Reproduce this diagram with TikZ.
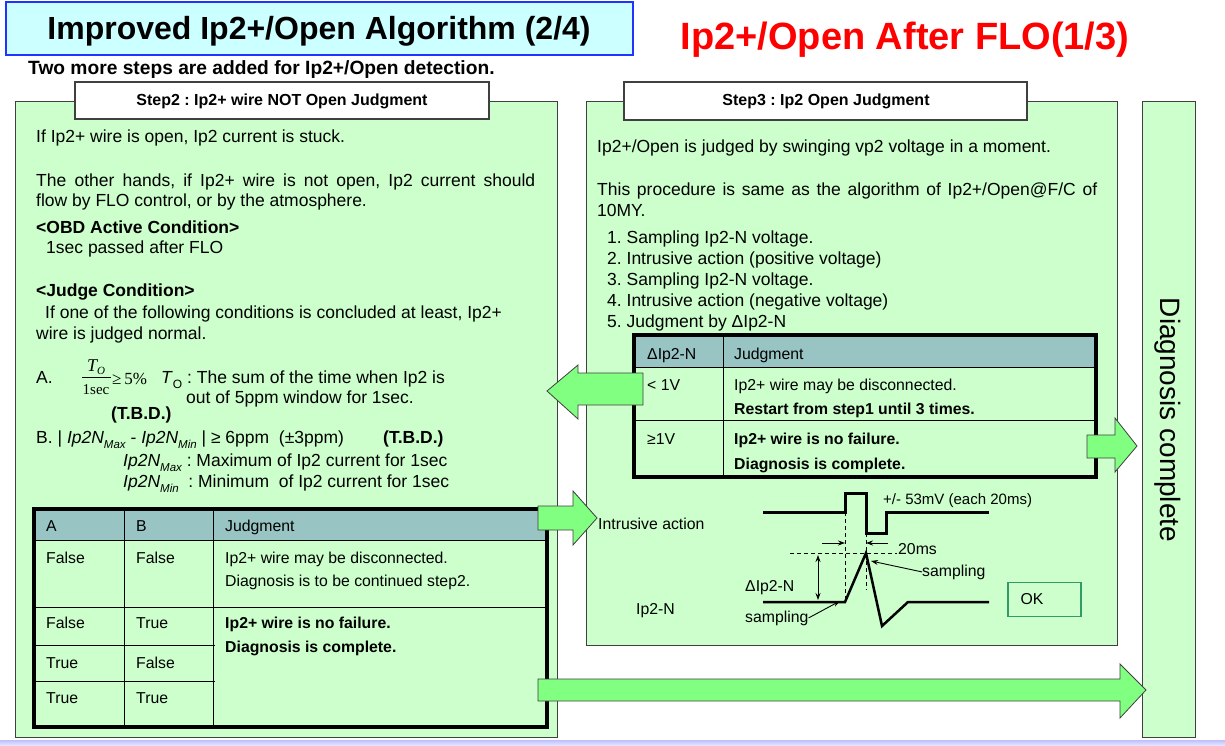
\documentclass[tikz,border=0pt]{standalone}
\usepackage{fontspec}
\setmainfont{Liberation Sans}
\newfontfamily\serifF{Liberation Serif}
\usetikzlibrary{arrows.meta}
\definecolor{pgreen}{HTML}{CCFFCC}
\definecolor{agreen}{HTML}{80FF80}
\definecolor{thead}{HTML}{99C4C4}
\definecolor{tcyan}{HTML}{CCFFFF}
\definecolor{tblue}{HTML}{2233FF}
\definecolor{okgreen}{HTML}{339966}
\definecolor{edge}{HTML}{404040}
\definecolor{tred}{HTML}{FF0000}
\newcommand\lsub[1]{\raisebox{-0.3em}{\fontsize{11.5}{11.5}\selectfont\itshape #1}}
\begin{document}
\frenchspacing
\begin{tikzpicture}[x=1pt,y=-1pt,
  panel/.style={draw=edge,line width=1pt,fill=pgreen},
  hdr/.style={draw=edge,line width=1.3pt,fill=white},
  bigarrow/.style={draw=edge,line width=0.8pt,fill=agreen,line join=miter},
  body/.style={anchor=base west,inner sep=0,font=\fontsize{17.5}{21}\selectfont},
  bodyb/.style={body,font=\fontsize{17.5}{21}\selectfont\bfseries},
  tab/.style={anchor=base west,inner sep=0,font=\fontsize{15.8}{19}\selectfont},
  tabb/.style={tab,font=\fontsize{15.8}{19}\selectfont\bfseries},
  thinline/.style={line width=0.9pt,black},
  tborder/.style={line width=4.5pt,black},
  dashln/.style={line width=0.9pt,dash pattern=on 4pt off 3pt},
  wave/.style={line width=3pt,line join=miter},
  dimarrow/.style={line width=0.9pt,-{Stealth[length=7pt,width=5pt]}}]
\useasboundingbox (0,0) rectangle (1225,746);
\fill[white] (0,0) rectangle (1225,746);
\shade[top color=blue!25!white, bottom color=blue!8!white] (0,740) rectangle (1225,746);

% titles
\draw[draw=tblue,line width=2.5pt,fill=tcyan] (6,2) rectangle (633,55);
\node[anchor=base,inner sep=0,font=\fontsize{32}{36}\selectfont\bfseries] (title) at (319,40) {Improved Ip2+/Open Algorithm (2/4)};
\node[anchor=base,inner sep=0,text=tred,font=\fontsize{38}{42}\selectfont\bfseries] (rtitle) at (905,50) {Ip2+/Open After FLO(1/3)};
\node[anchor=base west,inner sep=0,font=\fontsize{19.2}{22}\selectfont\bfseries] (sub) at (28,75) {Two more steps are added for Ip2+/Open detection.};

% panels
\draw[panel] (15,102) rectangle (557,737);
\draw[panel] (586,102) rectangle (1117,645);
\draw[panel] (1142,102) rectangle (1195,737);
\node[rotate=-90,inner sep=0,font=\fontsize{28}{30}\selectfont] (diag) at (1168,420) {Diagnosis complete};

% headers
\draw[hdr] (75,82) rectangle (489,119);
\node[anchor=base,inner sep=0,font=\fontsize{16}{18}\selectfont\bfseries] (h2) at (282,106) {Step2 : Ip2+ wire NOT Open Judgment};
\draw[hdr] (624,82) rectangle (1027,120);
\node[anchor=base,inner sep=0,font=\fontsize{16}{18}\selectfont\bfseries] (h3) at (826,106) {Step3 : Ip2 Open Judgment};

% left panel text
\node[body] (l1) at (36,143) {If Ip2+ wire is open, Ip2 current is stuck.};
\node[body] (l2) at (36,186) {\makebox[499pt][s]{The other hands, if Ip2+ wire is not open, Ip2 current should}};
\node[body] (l3) at (36,207) {flow by FLO control, or by the atmosphere.};
\node[bodyb] (l4) at (36,233) {<OBD Active Condition>};
\node[body] (l5) at (46,253) {1sec passed after FLO};
\node[bodyb] (l6) at (36,296) {<Judge Condition>};
\node[body] (l7) at (45,318) {If one of the following conditions is concluded at least, Ip2+};
\node[body] (l8) at (36,339) {wire is judged normal.};
\node[body] (la) at (36,383) {A.};
\node[anchor=base,inner sep=0,font=\serifF\fontsize{18}{18}\selectfont\itshape] (fnum) at (96,371) {T\raisebox{-0.2em}{\fontsize{11}{11}\selectfont O}};
\draw[line width=0.8pt] (82,377) -- (111,377);
\node[anchor=base,inner sep=0,font=\serifF\fontsize{15}{15}\selectfont] (fden) at (96,394) {1sec};
\node[anchor=base west,inner sep=0,font=\serifF\fontsize{17}{17}\selectfont] (fge) at (112,384) {≥\,5\%};
\node[body] (la2) at (161,383) {\textit{T}\raisebox{-0.3em}{\fontsize{12}{12}\selectfont O} : The sum of the time when Ip2 is};
\node[body] (la3) at (186,403) {out of 5ppm window for 1sec.};
\node[bodyb] (tbd1) at (111,419) {(T.B.D.)};
\node[body] (lb) at (36,443) {B. | \textit{Ip2N}\lsub{Max} - \textit{Ip2N}\lsub{Min} | ≥ 6ppm\ \ (±3ppm)};
\node[bodyb] (tbd2) at (383,443) {(T.B.D.)};
\node[body] (lb2) at (123,466) {\textit{Ip2N}\lsub{Max} : Maximum of Ip2 current for 1sec};
\node[body] (lb3) at (123,487) {\textit{Ip2N}\lsub{Min}\ \ : Minimum\ \ of Ip2 current for 1sec};

% left table
\fill[thead] (34,509) rectangle (547,540);
\draw[thinline] (34,540) -- (547,540) (34,607) -- (547,607)
  (34,645) -- (215,645) (34,681) -- (215,681)
  (124,509) -- (124,727) (213,509) -- (213,727);
\draw[tborder] (34,509) rectangle (547,727);
\node[tab] (ta) at (46,531) {A};
\node[tab] (tb) at (136,531) {B};
\node[tab] (tj) at (225,531) {Judgment};
\node[tab] (t11) at (46,563) {False};
\node[tab] (t12) at (136,563) {False};
\node[tab] (t13) at (225,563) {Ip2+ wire may be disconnected.};
\node[tab] (t14) at (225,586) {Diagnosis is to be continued step2.};
\node[tab] (t21) at (46,628) {False};
\node[tab] (t22) at (136,628) {True};
\node[tabb] (t23) at (225,628) {Ip2+ wire is no failure.};
\node[tabb] (t24) at (225,652) {Diagnosis is complete.};
\node[tab] (t31) at (46,668) {True};
\node[tab] (t32) at (136,668) {False};
\node[tab] (t41) at (46,703) {True};
\node[tab] (t42) at (136,703) {True};

% right panel text
\node[body] (r1) at (597,153) {Ip2+/Open is judged by swinging vp2 voltage in a moment.};
\node[body] (r2) at (597,195) {\makebox[500pt][s]{This procedure is same as the algorithm of Ip2+/Open@F/C of}};
\node[body] (r3) at (597,216) {10MY.};
\node[body] (s1) at (607,243) {1. Sampling Ip2-N voltage.};
\node[body] (s2) at (607,264) {2. Intrusive action (positive voltage)};
\node[body] (s3) at (607,285) {3. Sampling Ip2-N voltage.};
\node[body] (s4) at (607,306) {4. Intrusive action (negative voltage)};
\node[body] (s5) at (607,327) {5. Judgment by ΔIp2-N};

% right table
\fill[thead] (634,335) rectangle (1096,367);
\draw[thinline] (634,367) -- (1096,367) (634,420) -- (1096,420) (723,335) -- (723,477);
\draw[tborder] (634,335) rectangle (1096,477);
\node[tab] (ra) at (647,359) {ΔIp2-N};
\node[tab] (rj) at (734,359) {Judgment};
\node[tab] (r11) at (647,390) {< 1V};
\node[tab] (r12) at (734,390) {Ip2+ wire may be disconnected.};
\node[tabb] (r13) at (734,414) {Restart from step1 until 3 times.};
\node[tab] (r21) at (647,444) {≥1V};
\node[tabb] (r22) at (734,444) {Ip2+ wire is no failure.};
\node[tabb] (r23) at (734,469) {Diagnosis is complete.};

% waveform diagram
\node[tab] (intr) at (598,529) {Intrusive action};
\draw[wave] (763,512) -- (845,512) -- (845,493) -- (866,493) -- (866,533) -- (886,533) -- (886,512) -- (989,512);
\node[tab,font=\fontsize{15}{18}\selectfont] (amp) at (883,504) {+/- 53mV (each 20ms)};
\draw[dashln] (845,512) -- (845,602);
\draw[dashln] (866,533) -- (866,590);
\draw[dashln] (790,553) -- (897,553);
\coordinate (d1s) at (822,543); \coordinate (d1e) at (845,543);
\coordinate (d2s) at (888,543); \coordinate (d2e) at (866,543);
\draw[dimarrow] (d1s) -- (d1e);
\draw[dimarrow] (d2s) -- (d2e);
\node[tab] (ms) at (898,554) {20ms};
\draw[line width=2.5pt,line join=miter] (763,602) -- (845,602) -- (866,553) -- (882,626) -- (908,602) -- (989,602);
\coordinate (dvt) at (818,555); \coordinate (dvb) at (818,600);
\draw[line width=0.9pt,{Stealth[length=7pt,width=5pt]}-{Stealth[length=7pt,width=5pt]}] (dvt) -- (dvb);
\node[tab] (dlab) at (745,591) {ΔIp2-N};
\node[tab] (samp1) at (922,576) {sampling};
\coordinate (pk) at (871,561);
\draw[dimarrow] (samp1.west) -- (pk);
\node[tab] (samp2) at (745,622) {sampling};
\coordinate (st) at (840,601);
\draw[dimarrow] (samp2.east) -- (st);
\node[tab] (ipn) at (636,614) {Ip2-N};
\node[draw=okgreen,line width=1.8pt,minimum width=73pt,minimum height=34pt,inner sep=0,font=\fontsize{15.8}{19}\selectfont] (ok) at (1044.5,599.5) {\makebox[48pt][l]{OK}};

% big arrows
\draw[bigarrow] (643,373) -- (578,373) -- (578,365) -- (547,391) -- (578,419) -- (578,405) -- (643,405) -- cycle;
\draw[bigarrow] (1087,435) -- (1115,435) -- (1115,418) -- (1137,446) -- (1115,472) -- (1115,458) -- (1087,458) -- cycle;
\draw[bigarrow] (538,506) -- (573,506) -- (573,491) -- (597,518) -- (573,545) -- (573,530) -- (538,530) -- cycle;
\draw[bigarrow] (538,679) -- (1120,679) -- (1120,664) -- (1146,690) -- (1120,718) -- (1120,701) -- (538,701) -- cycle;
\end{tikzpicture}
\end{document}
